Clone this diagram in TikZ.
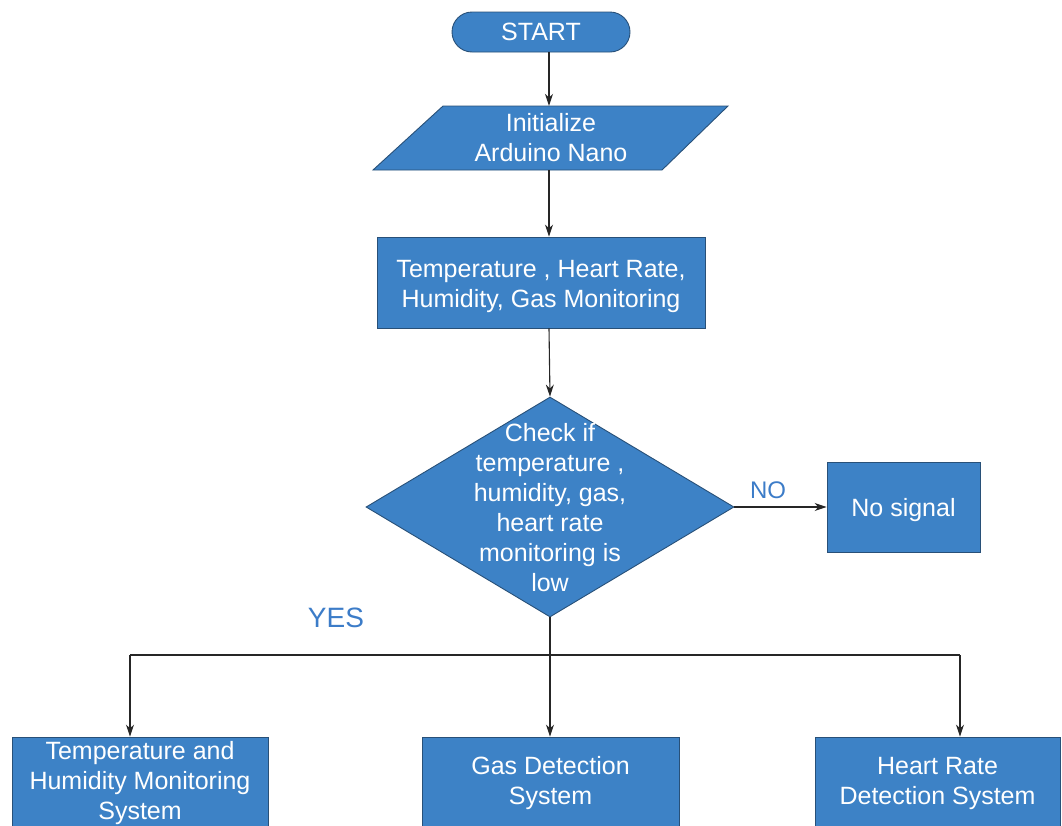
\documentclass[tikz,border=0pt]{standalone}
\usepackage{fontspec}
\setmainfont{Liberation Sans}
\usetikzlibrary{shapes.geometric,arrows.meta,calc}
\definecolor{boxfill}{RGB}{61,130,198}
\definecolor{boxline}{RGB}{40,80,120}
\definecolor{lblblue}{RGB}{60,124,200}
\begin{document}
\begin{tikzpicture}[x=1pt,y=-1pt,
  every node/.style={font=\fontsize{25}{30}\selectfont},
  blk/.style={draw=boxline,line width=0.9pt,fill=boxfill,text=white,inner sep=0pt,align=center},
  txt/.style={text=white,inner sep=0pt,align=center},
  arr/.style={draw=black!85,line width=1.1pt,-{Stealth[length=12pt,width=8pt]}},
  ln/.style={draw=black!85,line width=1.1pt},
  lbl/.style={text=lblblue,inner sep=0pt}]
\useasboundingbox (0,0) rectangle (1062,825);
\clip (0,0) rectangle (1062,825);
% start
\node[blk,rounded corners=20pt,minimum width=178pt,minimum height=40pt] (start) at (541,32) {START};
% parallelogram
\path[draw=boxline,line width=0.9pt,fill=boxfill] (443,106) -- (728,106) -- (662,170) -- (373,170) -- cycle;
\node[txt,minimum width=290pt,minimum height=64pt] (init) at (551,138) {Initialize\\Arduino Nano};
% monitoring
\node[blk,minimum width=328pt,minimum height=91pt] (mon) at (541,282.5) {};
\node[txt] (montext) at (541,286) {Temperature , Heart Rate,\\Humidity, Gas Monitoring};
% decision
\node[blk,shape=diamond,minimum width=368pt,minimum height=220pt] (dec) at (550,507) {};
\node[txt] (dtext) at (550,508) {Check if\\temperature ,\\humidity, gas,\\heart rate\\monitoring is\\low};
% no signal
\node[blk,minimum width=153pt,minimum height=90pt] (nosig) at (903.5,507) {};
\node[txt] (nosigtext) at (903.5,510) {No signal};
\node[lbl,font=\fontsize{24}{28}\selectfont] (nolbl) at (768,490) {NO};
\node[lbl,font=\fontsize{28}{32}\selectfont] (yeslbl) at (336,618) {YES};
% bottom boxes
\node[blk,minimum width=256pt,minimum height=92pt] (th) at (140,783) {Temperature and\\Humidity Monitoring\\System};
\node[blk,minimum width=257pt,minimum height=92pt] (gas) at (550.5,783) {Gas Detection\\System};
\node[blk,minimum width=245pt,minimum height=92pt] (hr) at (937.5,783) {Heart Rate\\Detection System};
% helper coordinates
\coordinate (ax) at (549,0);
\coordinate (bl) at (130,655);
\coordinate (bm) at (550,655);
\coordinate (br) at (960,655);
% connectors
\draw[arr] (start.south -| ax) -- (init.north -| ax);
\draw[arr] (init.south -| ax) -- (mon.north -| ax);
\draw[arr] (mon.south -| ax) -- (dec.north);
\draw[arr] (dec.east) -- (nosig.west);
\draw[ln] (dec.south) -- (bm);
\draw[ln] (bl) -- (br);
\draw[arr] (bl) -- (bl |- th.north);
\draw[arr] (bm) -- (gas.north -| bm);
\draw[arr] (br) -- (br |- hr.north);
\end{tikzpicture}
\end{document}
